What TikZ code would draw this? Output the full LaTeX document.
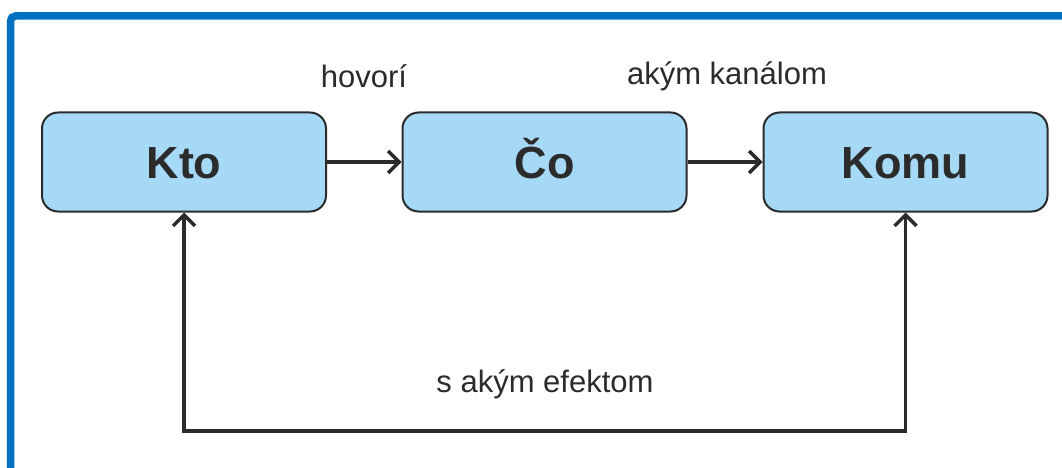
\documentclass[tikz,border=0pt]{standalone}
\usepackage{fontspec}
\setmainfont{Liberation Sans}
\usetikzlibrary{arrows.meta}
\definecolor{frameblue}{HTML}{0070C0}
\definecolor{boxfill}{HTML}{A6D9F6}
\definecolor{inkgray}{HTML}{2B2B2B}
\tikzset{
  barb/.tip={Straight Barb[length=11pt, width=22pt, line width=3.5pt]},
  stage/.style={draw=inkgray, line width=2pt, fill=boxfill, rounded corners=16pt,
    minimum width=284pt, minimum height=99pt, inner sep=0pt,
    text height=32pt, text depth=0pt,
    font=\fontsize{45}{50}\selectfont\bfseries, text=inkgray},
  flow/.style={draw=inkgray, line width=3.5pt, -barb},
  loop/.style={draw=inkgray, line width=3.5pt, barb-barb},
  caption/.style={font=\fontsize{31}{34}\selectfont, text=inkgray, inner sep=0pt}
}
\begin{document}
\begin{tikzpicture}[x=1pt, y=-1pt]
  \useasboundingbox (0,0) rectangle (1062,468);
  % outer blue frame (top and left edges)
  \draw[frameblue, line width=7.5pt, rounded corners=5pt]
    (10.5,470) -- (10.5,16) -- (1064,16);

  % the three stages
  \node[stage] (kto)  at (184,162)   {Kto};
  \node[stage] (co)   at (544.5,162) {Čo};
  \node[stage] (komu) at (905.5,162) {Komu};

  % forward flow
  \draw[flow] (kto.east) -- (co.west);
  \draw[flow] (co.east) -- (komu.west);

  % feedback loop
  \coordinate (bl) at (184,431);
  \coordinate (br) at (905.5,431);
  \draw[loop] (kto.south) -- (bl) -- (br) -- (komu.south);

  % labels
  \node[caption] (l1) at (364,76)  {hovorí};
  \node[caption] (l2) at (727,76)  {akým kanálom};
  \node[caption] (l3) at (545,384) {s akým efektom};
\end{tikzpicture}
\end{document}
